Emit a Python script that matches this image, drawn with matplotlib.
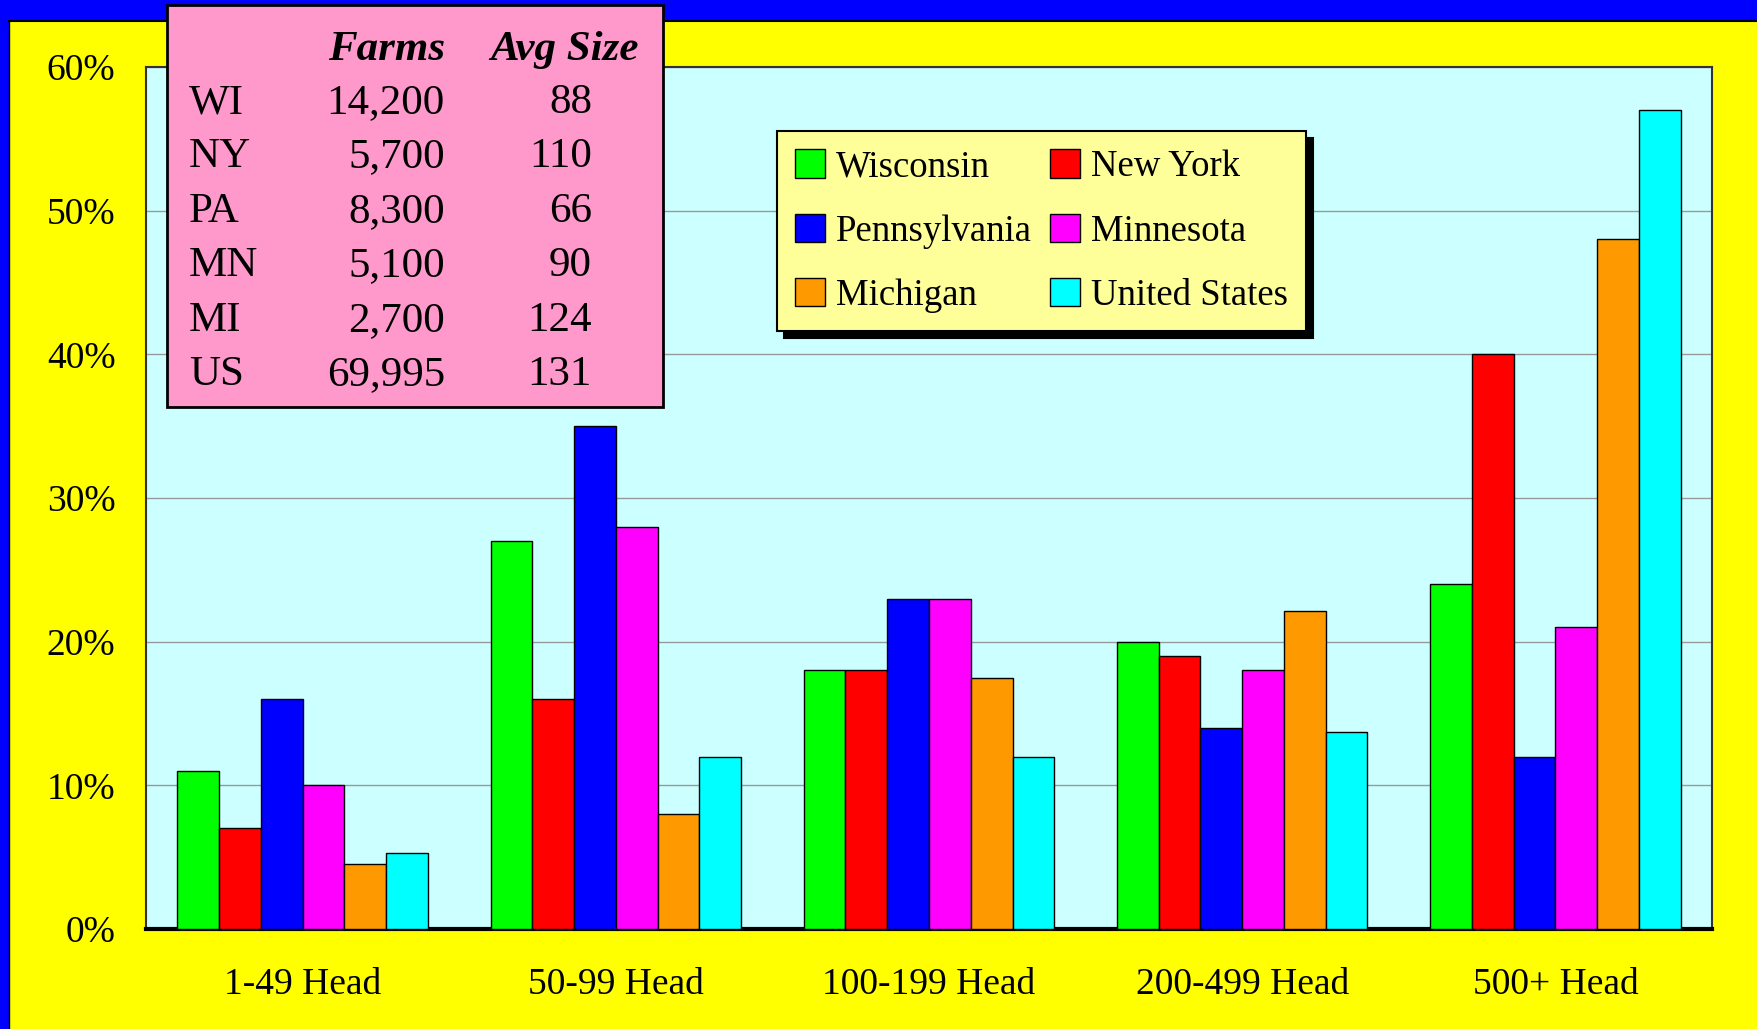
import matplotlib
matplotlib.use("Agg")
import matplotlib.pyplot as plt
import numpy as np
from matplotlib.patches import Rectangle, Patch

plt.rcParams['font.family'] = ['Liberation Serif', 'DejaVu Serif']

# chart data
categories = ["1-49 Head", "50-99 Head", "100-199 Head", "200-499 Head", "500+ Head"]
states = ["Wisconsin", "New York", "Pennsylvania", "Minnesota", "Michigan", "United States"]
colors = ["#00FF00", "#FF0000", "#0000FF", "#FF00FF", "#FF9900", "#00FFFF"]

wisconsin = [11.0, 27.0, 18.0, 20.0, 24.0]
new_york = [7.0, 16.0, 18.0, 19.0, 40.0]
pennsylvania = [16.0, 35.0, 23.0, 14.0, 12.0]
minnesota = [10.0, 28.0, 23.0, 18.0, 21.0]
michigan = [4.5, 8.0, 17.5, 22.1, 48.0]
united_states = [5.3, 12.0, 12.0, 13.7, 57.0]
series = [wisconsin, new_york, pennsylvania, minnesota, michigan, united_states]

# inset table
table_rows = ["WI", "NY", "PA", "MN", "MI", "US"]
table_farms = ["14,200", "5,700", "8,300", "5,100", "2,700", "69,995"]
table_avg = ["88", "110", "66", "90", "124", "131"]

W, H = 1758, 1029
fig = plt.figure(figsize=(W / 100, H / 100), dpi=100, facecolor="#FFFF00")

# blue frame (top band and left strip)
fig.patches.append(Rectangle((0, 1 - 20 / H), 1, 20 / H, transform=fig.transFigure,
                             facecolor="#0000FF", edgecolor="none", zorder=0))
fig.patches.append(Rectangle((0, 0), 9 / W, 1, transform=fig.transFigure,
                             facecolor="#0000FF", edgecolor="none", zorder=0))
fig.add_artist(plt.Line2D([9 / W, 1], [1 - 21 / H, 1 - 21 / H], transform=fig.transFigure,
                          color="black", lw=1.5))
fig.add_artist(plt.Line2D([9 / W, 9 / W], [0, 1 - 21 / H], transform=fig.transFigure,
                          color="black", lw=1.0))

ax = fig.add_axes([146 / W, 1 - 929 / H, (1712 - 146) / W, (929 - 67) / H])
ax.set_facecolor("#CCFFFF")

x = np.arange(len(categories))
n = len(series)
bw = 0.8 / n
for i, (vals, c) in enumerate(zip(series, colors)):
    ax.bar(x - 0.4 + bw * (i + 0.5), vals, width=bw, color=c, edgecolor="black",
           linewidth=1.0, zorder=3)

ax.set_xlim(-0.5, len(categories) - 0.5)
ax.set_ylim(0, 60)
ax.set_yticks(np.arange(0, 61, 10))
ax.set_yticklabels([f"{v}%" for v in range(0, 61, 10)])
ax.set_xticks(x)
ax.set_xticklabels(categories)
ax.tick_params(axis="y", length=0, pad=22, labelsize=27)
ax.tick_params(axis="x", length=0, pad=28, labelsize=27)
ax.yaxis.grid(True, color="#999999", linewidth=1.0, zorder=0)
ax.set_axisbelow(True)
for s in ["top", "right", "left"]:
    ax.spines[s].set_color("#333333")
    ax.spines[s].set_linewidth(1.5)
ax.spines["bottom"].set_color("black")
ax.spines["bottom"].set_linewidth(3)

# legend: two columns, row order WI/NY, PA/MN, MI/US
order = [0, 2, 4, 1, 3, 5]
handles = [Patch(facecolor=colors[i], edgecolor="black", linewidth=1.0) for i in order]
labels = [states[i] for i in order]
leg = fig.legend(handles, labels, ncol=2, loc="upper left",
                 bbox_to_anchor=(777 / W, 1 - 131 / H), bbox_transform=fig.transFigure,
                 fontsize=26.5, frameon=True, fancybox=False, facecolor="#FFFF99",
                 edgecolor="black", framealpha=1, borderpad=0.5, labelspacing=0.8,
                 handlelength=0.8, handleheight=0.8, handletextpad=0.3, columnspacing=0.5,
                 borderaxespad=0,
                 shadow={"color": "black", "alpha": 1, "ox": 5, "oy": -5})
leg.get_frame().set_linewidth(1.5)

# inset table box
fig.patches.append(Rectangle((167 / W, 1 - 407 / H), (663 - 167) / W, (407 - 5) / H,
                             transform=fig.transFigure, facecolor="#FF99CC",
                             edgecolor="black", linewidth=2, zorder=5))

def ftext(px, py, s, **kw):
    fig.text(px / W, 1 - py / H, s, fontsize=31, va="baseline", zorder=6, **kw)

ftext(445, 60, "Farms", ha="right", fontweight="bold", fontstyle="italic")
ftext(639, 60, "Avg Size", ha="right", fontweight="bold", fontstyle="italic")
for k, (r, f, a) in enumerate(zip(table_rows, table_farms, table_avg)):
    yb = 113 + k * 54.4
    ftext(189, yb, r, ha="left")
    ftext(445, yb, f, ha="right")
    ftext(592, yb, a, ha="right")

fig.savefig("out.png", dpi=100, facecolor=fig.get_facecolor())
